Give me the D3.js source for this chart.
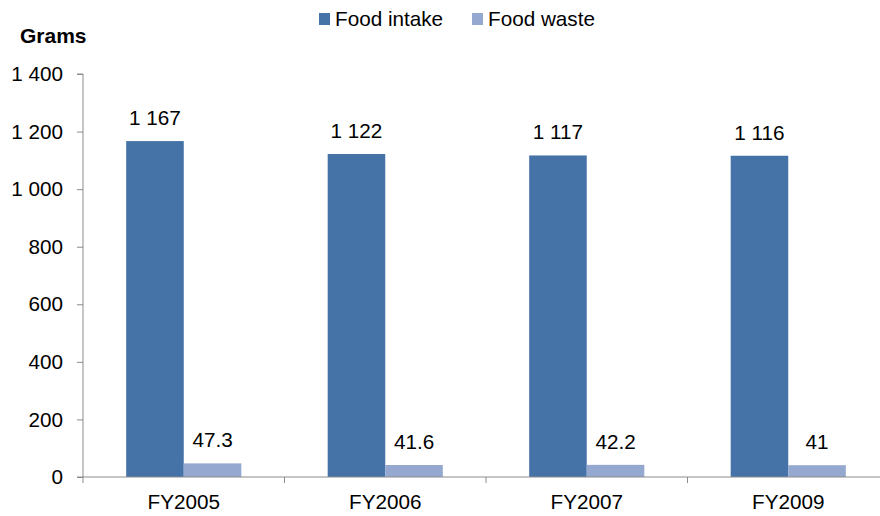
<!DOCTYPE html>
<html>
<head>
<meta charset="utf-8">
<script src="https://cdn.jsdelivr.net/npm/d3@7"></script>
<style>
  html, body { margin: 0; padding: 0; background: #fff; }
  svg { display: block; font-family: "Liberation Sans", Arial, sans-serif; }
</style>
</head>
<body>
<svg id="chart" width="880" height="516"></svg>
<script>
// Daily food per person (grams)
const categories = ["FY2005", "FY2006", "FY2007", "FY2009"];
const seriesNames = ["Food intake", "Food waste"];
const foodIntake = [1167, 1122, 1117, 1116];
const foodWaste = [47.3, 41.6, 42.2, 41];
const yTicks = [0, 200, 400, 600, 800, 1000, 1200, 1400];
const colors = ["#4573A7", "#94A8D0"];

const svg = d3.select("#chart");
const plotLeft = 83, plotBottom = 477, plotTop = 74;
const bandW = 201.5;
const fontSize = 20.7;

const x = d3.scaleBand().domain(categories)
  .range([plotLeft, plotLeft + bandW * categories.length]).padding(0);
const inner = d3.scaleBand().domain(seriesNames)
  .range([0, x.bandwidth()]).paddingInner(0).paddingOuter(0.75);
const y = d3.scaleLinear().domain([0, 1400]).range([plotBottom, plotTop]);

const spaced = v => d3.format(",")(v).replace(/,/g, " ");
const fmt = v => Number.isInteger(v) ? spaced(v) : String(v);

// Y axis
const yAxis = svg.append("g").attr("transform", `translate(${plotLeft},0)`)
  .call(d3.axisLeft(y).tickValues(yTicks).tickSize(6).tickPadding(14).tickFormat(spaced));
yAxis.select(".domain").attr("stroke", "#8c8c8c").attr("d", `M-6,${plotTop}H0V${plotBottom}`);
yAxis.selectAll(".tick line").attr("stroke", "#8c8c8c");
yAxis.selectAll(".tick text").attr("font-size", fontSize).attr("fill", "#000")
  .attr("font-family", "Liberation Sans, Arial, sans-serif");

// Bars
const data = categories.map((c, i) => ({ cat: c, vals: [foodIntake[i], foodWaste[i]] }));
const groups = svg.append("g").selectAll("g").data(data).join("g")
  .attr("transform", d => `translate(${x(d.cat)},0)`);
groups.selectAll("rect")
  .data(d => d.vals.map((v, k) => ({ name: seriesNames[k], v, k })))
  .join("rect")
  .attr("x", d => inner(d.name))
  .attr("width", inner.bandwidth())
  .attr("y", d => y(d.v))
  .attr("height", d => plotBottom - y(d.v))
  .attr("fill", d => colors[d.k]);

groups.selectAll("text")
  .data(d => d.vals.map((v, k) => ({ name: seriesNames[k], v, k })))
  .join("text")
  .attr("x", d => inner(d.name) + inner.bandwidth() / 2)
  .attr("y", d => y(d.v) - 16)
  .attr("text-anchor", "middle")
  .attr("font-size", fontSize)
  .attr("fill", "#000")
  .text(d => fmt(d.v));

// X axis
const xAxis = svg.append("g").attr("transform", `translate(0,${plotBottom})`);
xAxis.append("line").attr("x1", plotLeft - 6).attr("x2", 880).attr("y1", 0).attr("y2", 0)
  .attr("stroke", "#8c8c8c");
const bounds = categories.map(c => x(c)).concat([x.range()[1]]);
xAxis.selectAll("line.tk").data(bounds).join("line").attr("class", "tk")
  .attr("x1", d => d).attr("x2", d => d).attr("y1", 0).attr("y2", 6)
  .attr("stroke", "#8c8c8c");
xAxis.selectAll("text").data(categories).join("text")
  .attr("x", d => x(d) + x.bandwidth() / 2)
  .attr("y", 32)
  .attr("text-anchor", "middle")
  .attr("font-size", fontSize)
  .attr("fill", "#000")
  .text(d => d);

// Unit label
svg.append("text").attr("x", 20).attr("y", 43)
  .attr("font-size", 21).attr("font-weight", "bold").attr("fill", "#000")
  .text("Grams");

// Legend
const legendX = [319, 472];
const lg = svg.append("g").selectAll("g").data(seriesNames).join("g")
  .attr("transform", (d, i) => `translate(${legendX[i]},0)`);
lg.append("rect").attr("x", 0).attr("y", 13).attr("width", 11).attr("height", 12)
  .attr("fill", (d, i) => colors[i]);
lg.append("text").attr("x", 16).attr("y", 26).attr("font-size", fontSize).attr("fill", "#000")
  .text(d => d);
</script>
</body>
</html>
